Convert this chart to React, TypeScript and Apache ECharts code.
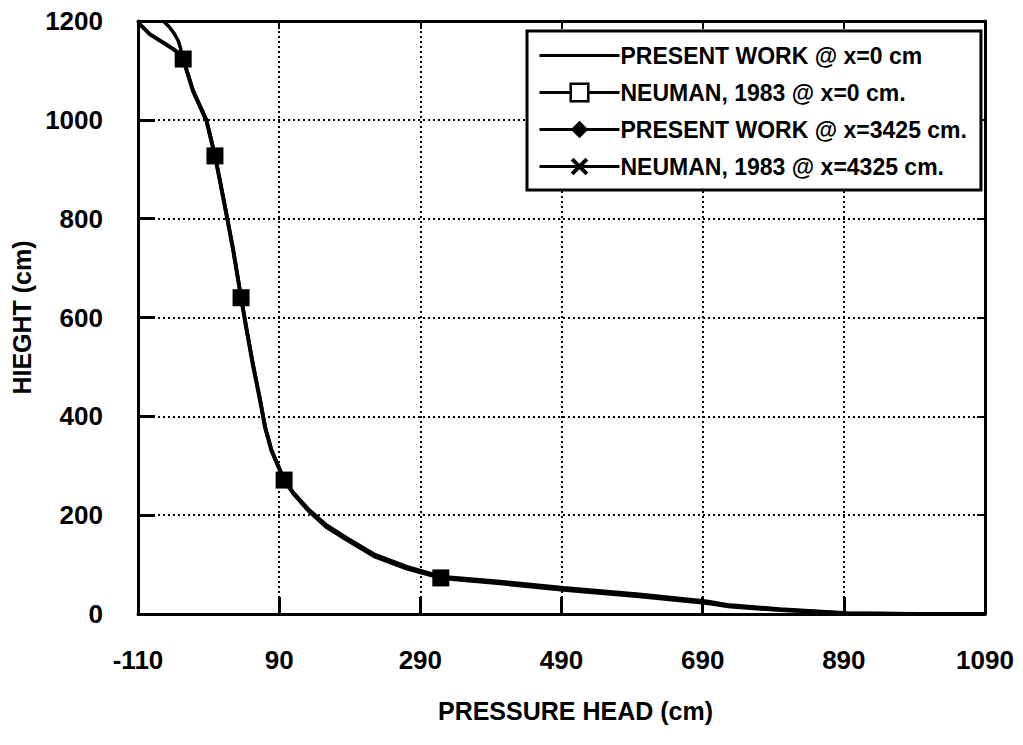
import React, { useEffect, useRef } from "react";
import * as echarts from "echarts";

// Axis ranges (pressure head in cm, height in cm)
const X_MIN = -110;
const X_MAX = 1090;
const X_STEP = 200;
const Y_MIN = 0;
const Y_MAX = 1200;
const Y_STEP = 200;

const SERIES_NAMES = [
  "PRESENT WORK @ x=0 cm",
  "NEUMAN, 1983 @ x=0 cm.",
  "PRESENT WORK @ x=3425 cm.",
  "NEUMAN, 1983 @ x=4325 cm.",
];

// Present work profile at x = 0 cm
const presentX0 = [-110, -100, -93, -74, -60, -50, -46, -32, -13, -1, 6, 16, 25, 36, 44, 53, 63, 70, 79, 97, 110, 131, 157, 186, 226, 271, 319, 403, 493, 600, 696, 729, 800, 894, 1000, 1090];
const presentY0 = [1197, 1183, 1173, 1156, 1143, 1133, 1123, 1058, 998, 927, 877, 803, 735, 640, 574, 503, 432, 378, 331, 271, 244, 210, 176, 150, 116, 92, 73, 62, 49, 36, 22, 15, 8, 1, 0, 0];

// Neuman (1983) results at x = 0 cm
const neumanX0 = [-46, -1, 36, 97, 319];
const neumanY0 = [1123, 927, 640, 271, 73];

// Present work profile at x = 3425 cm
const presentX3425 = [-74, -65, -58, -53, -50, -46, -32, -13, -1, 6, 16, 25, 36, 44, 53, 63, 70, 79, 97, 110, 131, 157, 186, 226, 271, 319, 403, 493, 600, 696, 729, 800, 894, 1000, 1090];
const presentY3425 = [1200, 1187, 1173, 1160, 1146, 1123, 1060, 1000, 929, 878, 805, 737, 642, 576, 505, 434, 380, 333, 272, 246, 213, 180, 154, 120, 96, 76, 66, 53, 40, 26, 18, 10, 2, 0, 0];

// Neuman (1983) results at x = 4325 cm (no points inside the plotted range)
const neumanX4325: number[] = [];
const neumanY4325: number[] = [];

const FONT = "'Liberation Sans', Arial, Helvetica, sans-serif";
const CROSS = "path://M0 1.6L1.6 0L5 3.4L8.4 0L10 1.6L6.6 5L10 8.4L8.4 10L5 6.6L1.6 10L0 8.4L3.4 5Z";

// The x axis runs on an offset scale so its ticks start at X_MIN
const toPairs = (xs: number[], ys: number[]) => xs.map((x, i) => [x - X_MIN, ys[i]]);

export default function App() {
  const ref = useRef<HTMLDivElement>(null);

  useEffect(() => {
    if (!ref.current) return;
    const chart = echarts.init(ref.current, undefined, { renderer: "svg" });

    const lbl = { color: "#000", fontFamily: FONT, fontWeight: "bold" as const, fontSize: 26 };
    const black = "#000";
    const legendLine = { color: black, width: 3, opacity: 1 };

    chart.setOption({
      animation: false,
      backgroundColor: "#fff",
      grid: { left: 138, right: 38, top: 21, bottom: 131, containLabel: false },
      legend: {
        orient: "vertical",
        left: 527,
        top: 31,
        padding: [13, 14, 12, 11],
        itemGap: 14,
        itemWidth: 80,
        itemHeight: 22,
        backgroundColor: "#fff",
        borderColor: black,
        borderWidth: 3,
        borderRadius: 0,
        textStyle: { color: black, fontFamily: FONT, fontWeight: "bold", fontSize: 23, padding: [0, 0, 0, -4] },
        data: [
          { name: SERIES_NAMES[0], icon: "path://M0 0H80V3H0Z" },
          {
            name: SERIES_NAMES[1],
            lineStyle: legendLine,
            itemStyle: { color: "#fff", borderColor: black, borderWidth: 2.5 },
          },
          { name: SERIES_NAMES[2], lineStyle: legendLine },
          { name: SERIES_NAMES[3], lineStyle: legendLine },
        ],
      },
      xAxis: [
        {
          type: "value",
          min: 0,
          max: X_MAX - X_MIN,
          interval: X_STEP,
          axisLine: { show: true, onZero: false, lineStyle: { color: black, width: 3 } },
          axisTick: { show: true, inside: true, length: 17, lineStyle: { color: black, width: 3 } },
          axisLabel: { ...lbl, margin: 33, formatter: (v: number) => String(v + X_MIN) },
          splitLine: { show: true, lineStyle: { color: black, width: 2, type: [2, 3] } },
          name: "PRESSURE HEAD (cm)",
          nameLocation: "middle",
          nameGap: 84,
          nameTextStyle: { ...lbl, fontSize: 25, padding: [0, 0, 0, 28] },
        },
        {
          type: "value",
          position: "top",
          min: 0,
          max: X_MAX - X_MIN,
          interval: X_STEP,
          axisLine: { show: true, onZero: false, lineStyle: { color: black, width: 3 } },
          axisTick: { show: true, inside: true, length: 8, lineStyle: { color: black, width: 2 } },
          axisLabel: { show: false },
          splitLine: { show: false },
        },
      ],
      yAxis: [
        {
          type: "value",
          min: Y_MIN,
          max: Y_MAX,
          interval: Y_STEP,
          axisLine: { show: true, onZero: false, lineStyle: { color: black, width: 3 } },
          axisTick: { show: true, inside: true, length: 17, lineStyle: { color: black, width: 3 } },
          axisLabel: { ...lbl, margin: 35, formatter: (v: number) => String(v) },
          splitLine: { show: true, lineStyle: { color: black, width: 2, type: [2, 3] } },
          name: "HIEGHT (cm)",
          nameLocation: "middle",
          nameGap: 100,
          nameTextStyle: { ...lbl, fontSize: 25 },
        },
        {
          type: "value",
          position: "right",
          min: Y_MIN,
          max: Y_MAX,
          interval: Y_STEP,
          axisLine: { show: true, onZero: false, lineStyle: { color: black, width: 3 } },
          axisTick: { show: true, inside: true, length: 8, lineStyle: { color: black, width: 2 } },
          axisLabel: { show: false },
          splitLine: { show: false },
        },
      ],
      series: [
        {
          name: SERIES_NAMES[0],
          type: "line",
          data: toPairs(presentX0, presentY0),
          symbol: "none",
          lineStyle: { color: black, width: 4 },
          itemStyle: { color: black },
          z: 3,
        },
        {
          name: SERIES_NAMES[1],
          type: "line",
          data: toPairs(neumanX0, neumanY0),
          symbol: "rect",
          symbolSize: 17,
          showSymbol: true,
          lineStyle: { color: black, width: 3, opacity: 0 },
          itemStyle: { color: black },
          z: 5,
        },
        {
          name: SERIES_NAMES[2],
          type: "line",
          data: toPairs(presentX3425, presentY3425),
          symbol: "diamond",
          symbolSize: 14,
          showSymbol: false,
          lineStyle: { color: black, width: 3.5 },
          itemStyle: { color: black },
          z: 3,
        },
        {
          name: SERIES_NAMES[3],
          type: "line",
          data: toPairs(neumanX4325, neumanY4325),
          symbol: CROSS,
          symbolSize: 14,
          showSymbol: true,
          lineStyle: { color: black, width: 3 },
          itemStyle: { color: black },
          z: 3,
        },
      ],
    });

    return () => chart.dispose();
  }, []);

  return (
    <div
      ref={ref}
      style={{ position: "absolute", left: 0, top: 0, width: 1023, height: 745, background: "#fff" }}
    />
  );
}
